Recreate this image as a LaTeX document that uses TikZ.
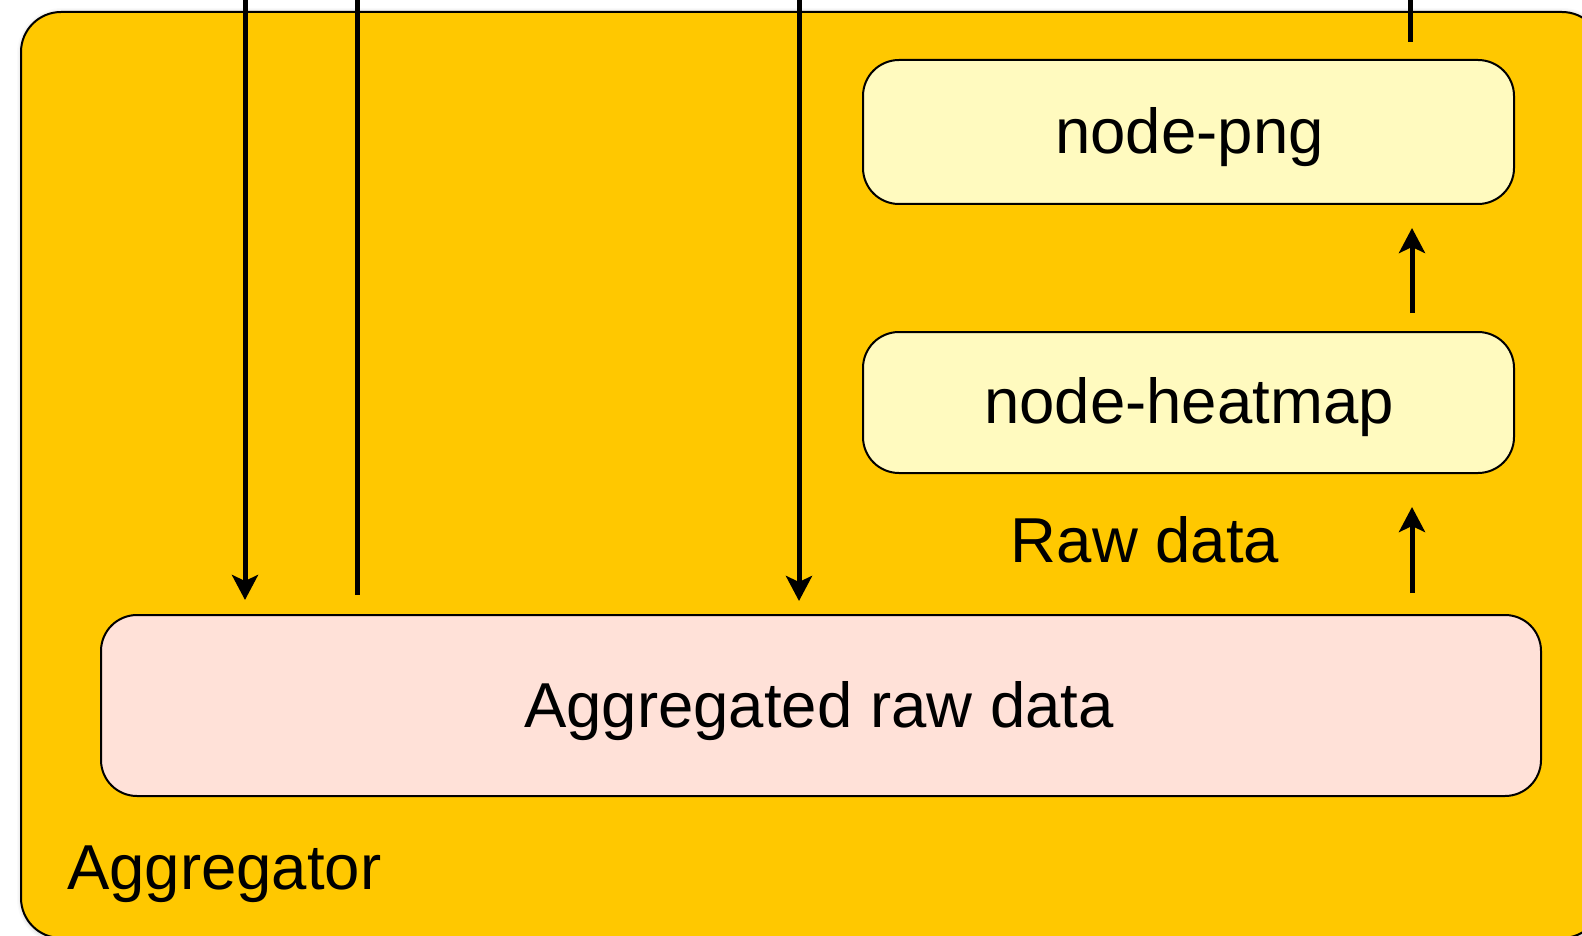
\documentclass[tikz,border=0pt]{standalone}
\usepackage{fontspec}
\setmainfont{Liberation Sans}
\usetikzlibrary{arrows.meta,shadows.blur}

\definecolor{amber}{HTML}{FFC800}
\definecolor{paleyellow}{HTML}{FFFABF}
\definecolor{palepink}{HTML}{FFE1D8}

\begin{document}
\begin{tikzpicture}[x=1pt,y=-1pt,
  lbl/.style={font=\fontsize{63.5}{76}\selectfont, inner sep=0pt},
  container/.style={draw=black, line width=2pt, fill=amber, rounded corners=40pt,
    inner sep=0pt, blur shadow={shadow xshift=1pt, shadow yshift=-1pt,
    shadow blur radius=5pt, shadow opacity=30}},
  stage/.style={draw=black, line width=2pt, rounded corners=36pt, inner sep=0pt},
  wire/.style={line width=5pt},
  arr/.style={wire, -{Stealth[length=25pt,width=26pt,inset=6pt]}}]

\useasboundingbox (0,0) rectangle (1582,936);
\clip (0,0) rectangle (1582,936);

% enclosing Aggregator group
\node[container, minimum width=1581pt, minimum height=926pt] (group) at (811.5,475) {};
\node[lbl, anchor=base west] (grouplabel) at (67,889) {Aggregator};

% processing stages
\node[stage, fill=paleyellow, minimum width=651pt, minimum height=144pt] (png) at (1188.5,132) {};
\node[lbl, anchor=base] (pngtxt) at (1189.5,154) {node-png};

\node[stage, fill=paleyellow, minimum width=651pt, minimum height=141pt] (heatmap) at (1188.5,402.5) {};
\node[lbl, anchor=base] (heatmaptxt) at (1189,423) {node-heatmap};

\node[stage, fill=palepink, minimum width=1440pt, minimum height=181pt] (agg) at (821,705.5) {};
\node[lbl, anchor=base] (aggtxt) at (819,727) {Aggregated raw data};

\node[lbl, anchor=base] (rawlbl) at (1145,562) {Raw data};

% entry points of the incoming lines (above the frame)
\coordinate (inA) at (245,-10);
\coordinate (inB) at (357,-10);
\coordinate (inC) at (799,-10);
\coordinate (outTop) at (1410,-10);
\coordinate (colR) at (1412,0);

% incoming connections
\draw[arr, shorten >=14pt] (inA) -- (agg.north -| inA);
\draw[wire, shorten >=19pt] (inB) -- (agg.north -| inB);
\draw[arr, shorten >=13pt] (inC) -- (agg.north -| inC);

% pipeline on the right
\draw[arr, shorten <=21pt, shorten >=33pt] (agg.north -| colR) -- (heatmap.south -| colR);
\draw[arr, shorten <=18pt, shorten >=23pt] (heatmap.north -| colR) -- (png.south -| colR);
\draw[wire, shorten <=17pt] (png.north -| outTop) -- (outTop);

\end{tikzpicture}
\end{document}
